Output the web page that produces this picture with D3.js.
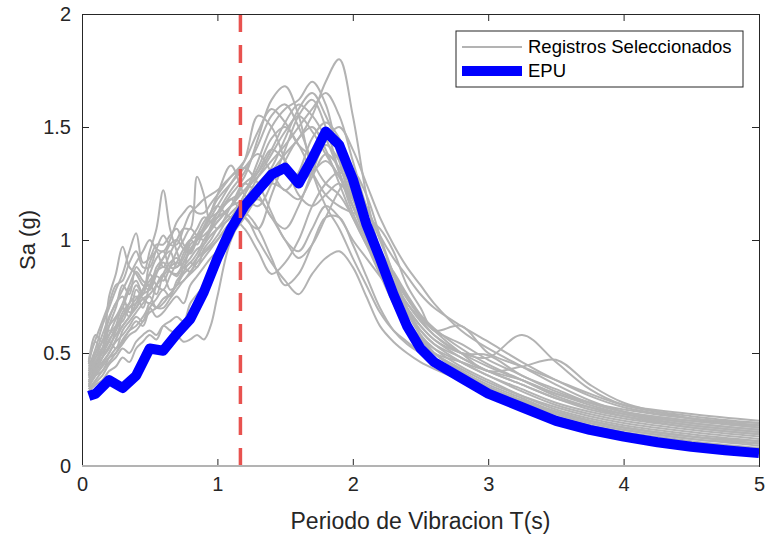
<!DOCTYPE html>
<html><head><meta charset="utf-8">
<script src="https://cdn.jsdelivr.net/npm/d3@7"></script>
<style>body{margin:0;background:#fff}text{font-family:"Liberation Sans",Arial,sans-serif}</style>
</head><body><svg id="c" width="765" height="535"></svg>
<script>
const periods = [0.05,0.1,0.15,0.2,0.25,0.3,0.35,0.4,0.45,0.5,0.55,0.6,0.65,0.7,0.75,0.8,0.85,0.9,0.95,1.0,
  1.1,1.2,1.3,1.4,1.5,1.6,1.7,1.8,1.9,2.0,2.1,2.2,2.3,2.4,2.5,2.6,2.8,3.0,3.25,3.5,3.75,4.0,4.5,5.0];
const records = [
[0.36,0.40,0.42,0.48,0.52,0.55,0.60,0.62,0.66,0.70,0.66,0.68,0.72,0.75,0.72,0.80,0.84,0.88,0.92,0.95, 1.02,1.10,1.20,1.30,1.38,1.45,1.55,1.70,1.80,1.55,1.20,0.95,0.80,0.68,0.58,0.52,0.44,0.38,0.31,0.25,0.21,0.18,0.14,0.11],
[0.40,0.45,0.50,0.55,0.62,0.70,0.66,0.78,0.74,0.72,0.80,0.85,0.78,0.80,0.88,0.92,0.96,0.98,1.02,1.05, 1.10,1.20,1.35,1.50,1.58,1.62,1.70,1.60,1.35,1.15,1.02,0.95,0.86,0.76,0.67,0.61,0.52,0.45,0.38,0.31,0.26,0.22,0.17,0.14],
[0.38,0.42,0.52,0.60,0.58,0.66,0.72,0.80,0.76,0.85,0.80,0.78,0.84,0.90,0.96,1.00,0.98,1.05,1.10,1.12, 1.20,1.28,1.45,1.62,1.68,1.55,1.30,1.15,1.05,0.92,0.80,0.68,0.60,0.55,0.50,0.46,0.40,0.35,0.29,0.24,0.20,0.17,0.13,0.10],
[0.42,0.50,0.55,0.65,0.72,0.75,0.68,0.70,0.78,0.85,0.92,0.95,0.88,0.88,0.94,1.00,1.02,1.05,1.10,1.15, 1.25,1.35,1.55,1.50,1.35,1.20,1.15,1.20,1.25,1.15,1.00,0.85,0.72,0.62,0.56,0.50,0.46,0.42,0.38,0.32,0.27,0.23,0.18,0.15],
[0.45,0.55,0.50,0.62,0.70,0.80,0.76,0.88,0.85,0.95,1.05,1.22,1.05,0.95,0.88,0.90,0.94,1.00,1.05,1.10, 1.18,1.10,1.05,1.20,1.35,1.45,1.50,1.40,1.25,1.10,0.98,0.88,0.78,0.70,0.62,0.56,0.50,0.48,0.58,0.46,0.34,0.27,0.22,0.19],
[0.40,0.48,0.52,0.58,0.65,0.70,0.78,0.82,0.76,0.90,0.95,0.88,0.94,1.00,1.05,1.05,1.28,1.20,1.08,1.10, 1.15,1.25,1.30,1.40,1.52,1.60,1.55,1.45,1.30,1.15,1.05,0.95,0.85,0.75,0.66,0.60,0.50,0.42,0.44,0.47,0.36,0.28,0.21,0.17],
[0.35,0.42,0.46,0.50,0.56,0.62,0.66,0.72,0.78,0.80,0.76,0.85,0.90,0.92,0.88,0.98,1.00,1.05,1.12,1.20, 1.33,1.20,1.15,1.25,1.40,1.55,1.62,1.50,1.30,1.12,1.00,0.90,0.80,0.70,0.62,0.56,0.48,0.42,0.36,0.30,0.26,0.23,0.19,0.16],
[0.34,0.37,0.40,0.45,0.48,0.52,0.50,0.55,0.58,0.60,0.58,0.62,0.60,0.58,0.55,0.56,0.58,0.56,0.62,0.75, 1.00,1.10,1.00,0.90,0.82,0.76,0.85,0.92,0.95,0.88,0.75,0.62,0.55,0.50,0.46,0.43,0.38,0.34,0.28,0.23,0.19,0.16,0.12,0.09],
[0.38,0.42,0.48,0.55,0.52,0.60,0.64,0.68,0.72,0.75,0.70,0.72,0.76,0.80,0.85,0.88,0.92,0.95,0.98,1.02, 1.10,1.05,0.95,0.85,0.90,1.00,1.15,1.25,1.30,1.25,1.15,1.00,0.85,0.70,0.58,0.50,0.42,0.36,0.30,0.24,0.20,0.17,0.13,0.10],
[0.37,0.44,0.48,0.52,0.60,0.68,0.72,0.75,0.70,0.80,0.86,0.90,0.86,0.85,0.90,0.95,1.00,1.02,1.05,1.08, 1.15,1.22,1.28,1.35,1.42,1.50,1.58,1.65,1.55,1.35,1.15,1.02,0.92,0.84,0.76,0.70,0.62,0.55,0.46,0.38,0.31,0.26,0.21,0.18],
[0.44,0.52,0.62,0.70,0.78,0.85,0.95,1.03,0.90,0.92,0.98,0.98,1.02,1.05,0.98,0.95,1.02,1.08,1.12,1.15, 1.10,1.20,1.30,1.40,1.35,1.25,1.30,1.35,1.28,1.15,1.02,0.90,0.80,0.72,0.65,0.58,0.50,0.49,0.40,0.34,0.28,0.24,0.20,0.18],
[0.46,0.58,0.55,0.75,0.85,0.97,0.88,0.85,0.80,0.78,0.85,0.92,0.95,0.88,0.92,1.00,1.05,1.10,1.08,1.05, 1.15,1.25,1.20,1.10,1.05,1.15,1.30,1.42,1.35,1.20,1.05,0.92,0.82,0.72,0.64,0.58,0.50,0.44,0.38,0.32,0.28,0.25,0.21,0.19],
[0.35,0.40,0.44,0.48,0.50,0.56,0.60,0.64,0.62,0.70,0.74,0.78,0.75,0.82,0.86,0.90,0.88,0.96,1.00,1.05, 1.12,1.18,1.25,1.32,1.45,1.58,1.65,1.55,1.40,1.20,1.02,0.88,0.75,0.64,0.56,0.50,0.43,0.37,0.31,0.26,0.22,0.19,0.15,0.12],
[0.39,0.46,0.52,0.58,0.62,0.64,0.70,0.72,0.76,0.78,0.84,0.82,0.88,0.95,1.00,1.05,1.02,1.00,1.06,1.12, 1.22,1.30,1.42,1.55,1.60,1.50,1.35,1.25,1.20,1.10,0.98,0.85,0.74,0.64,0.57,0.52,0.46,0.40,0.34,0.28,0.24,0.21,0.17,0.14],
[0.33,0.36,0.38,0.42,0.44,0.48,0.46,0.52,0.55,0.58,0.56,0.62,0.64,0.66,0.64,0.72,0.76,0.80,0.86,0.92, 1.02,1.12,1.18,1.10,1.00,0.92,0.98,1.10,1.22,1.30,1.20,1.02,0.85,0.70,0.58,0.50,0.42,0.35,0.29,0.23,0.19,0.16,0.12,0.10],
[0.41,0.48,0.55,0.62,0.66,0.72,0.80,0.86,0.82,0.80,0.88,0.92,0.98,1.00,0.96,0.94,1.00,1.06,1.12,1.18, 1.25,1.32,1.38,1.30,1.22,1.30,1.45,1.52,1.45,1.30,1.12,0.95,0.82,0.70,0.60,0.54,0.48,0.42,0.36,0.30,0.25,0.22,0.18,0.15],
[0.36,0.41,0.45,0.50,0.55,0.58,0.62,0.66,0.64,0.72,0.70,0.70,0.74,0.78,0.82,0.85,0.88,0.92,0.96,1.00, 1.08,1.12,1.05,0.92,0.80,0.85,0.98,1.10,1.10,0.98,0.84,0.70,0.60,0.54,0.50,0.47,0.40,0.35,0.29,0.24,0.20,0.17,0.13,0.11],
[0.40,0.46,0.50,0.56,0.60,0.66,0.70,0.74,0.78,0.82,0.86,0.88,0.86,0.84,0.90,0.96,1.00,1.04,1.08,1.12, 1.18,1.22,1.32,1.45,1.50,1.42,1.30,1.20,1.15,1.12,1.10,1.05,0.95,0.80,0.70,0.60,0.62,0.50,0.44,0.38,0.32,0.27,0.23,0.20],
[0.43,0.50,0.58,0.66,0.72,0.78,0.84,0.90,0.95,1.00,0.96,0.95,1.00,1.08,1.12,1.15,1.12,1.12,1.16,1.20, 1.28,1.35,1.48,1.58,1.52,1.42,1.38,1.45,1.50,1.40,1.25,1.10,0.98,0.88,0.80,0.72,0.60,0.52,0.44,0.36,0.29,0.24,0.19,0.16],
[0.34,0.38,0.42,0.46,0.50,0.54,0.58,0.60,0.64,0.68,0.70,0.74,0.76,0.80,0.82,0.86,0.90,0.94,0.97,1.00, 1.08,1.15,1.20,1.25,1.22,1.18,1.28,1.38,1.32,1.18,1.02,0.86,0.72,0.60,0.52,0.46,0.40,0.34,0.28,0.22,0.18,0.15,0.11,0.08],
[0.47,0.56,0.64,0.72,0.80,0.82,0.90,0.95,0.88,0.88,0.96,1.02,0.98,0.98,1.05,1.12,1.15,1.18,1.20,1.22, 1.28,1.32,1.25,1.12,1.00,0.95,1.05,1.15,1.10,1.00,0.92,0.84,0.76,0.68,0.60,0.54,0.46,0.40,0.33,0.27,0.23,0.20,0.16,0.13],
[0.37,0.43,0.48,0.53,0.58,0.62,0.66,0.70,0.74,0.76,0.80,0.84,0.88,0.90,0.88,0.86,0.92,0.98,1.04,1.08, 1.15,1.18,1.28,1.38,1.48,1.55,1.48,1.38,1.28,1.18,1.08,0.96,0.84,0.74,0.66,0.60,0.54,0.47,0.40,0.33,0.28,0.24,0.20,0.17]
];
const epuPeriods = [0.05,0.1,0.2,0.3,0.4,0.5,0.6,0.7,0.8,0.9,1.0,1.1,1.2,1.3,1.4,1.5,1.6,1.7,1.8,1.9,2.0,2.1,2.2,2.3,2.4,2.5,2.6,2.8,3.0,3.25,3.5,3.75,4.0,4.25,4.5,4.75,5.0];
const epuValues = [0.31,0.32,0.38,0.345,0.40,0.52,0.51,0.585,0.65,0.77,0.92,1.05,1.15,1.22,1.29,1.32,1.25,1.36,1.48,1.42,1.27,1.07,0.92,0.76,0.62,0.52,0.46,0.39,0.32,0.26,0.20,0.16,0.13,0.105,0.085,0.07,0.057];
const periodLimit = 1.17;
const xTicks = [0,1,2,3,4,5];
const yTicks = [0,0.5,1,1.5,2];
const yTickLabels = ["0","0.5","1","1.5","2"];
const legendLabels = ["Registros Seleccionados","EPU"];

const svg = d3.select("#c");
const L=82,R=759,T=14,B=466;
const x = d3.scaleLinear().domain([0,5]).range([L,R]);
const y = d3.scaleLinear().domain([0,2]).range([B,T]);

const g = svg.append("g");
const lineRec = d3.line().x((d,i)=>x(periods[i])).y(d=>y(d)).curve(d3.curveCatmullRom.alpha(0.5));
g.append("g").selectAll("path").data(records).join("path")
  .attr("d",lineRec).attr("fill","none").attr("stroke","#b3b3b3").attr("stroke-width",2);
const lineEpu = d3.line().x((d,i)=>x(epuPeriods[i])).y(d=>y(d));
g.append("path").attr("d",lineEpu(epuValues)).attr("fill","none").attr("stroke","#0000ff")
  .attr("stroke-width",10).attr("stroke-linejoin","round");
g.append("line").attr("x1",x(periodLimit)).attr("x2",x(periodLimit)).attr("y1",y(2)).attr("y2",y(0))
  .attr("stroke","#e8524f").attr("stroke-width",3.5).attr("stroke-dasharray","18,13");

const ax = svg.append("g");
ax.append("g").attr("transform",`translate(0,${B})`).call(d3.axisBottom(x).tickValues(xTicks).tickSize(-7).tickPadding(11).tickFormat(d3.format("d")));
ax.append("g").attr("transform",`translate(0,${T})`).call(d3.axisTop(x).tickValues(xTicks).tickSize(-7).tickFormat(""));
ax.append("g").attr("transform",`translate(${L},0)`).call(d3.axisLeft(y).tickValues(yTicks).tickSize(-7).tickPadding(11).tickFormat((d,i)=>yTickLabels[i]));
ax.append("g").attr("transform",`translate(${R},0)`).call(d3.axisRight(y).tickValues(yTicks).tickSize(-7).tickFormat(""));
ax.selectAll(".domain").attr("stroke","#262626").attr("stroke-width",1);
ax.selectAll(".tick line").attr("stroke","#262626");
ax.selectAll(".tick text").attr("font-size",20).attr("fill","#262626").attr("font-family","'Liberation Sans',Arial,sans-serif");
ax.append("line").attr("x1",x(0)).attr("x2",x(5)).attr("y1",y(0)).attr("y2",y(0)).attr("stroke","#b3b3b3").attr("stroke-width",2);

svg.append("text").attr("x",(L+R)/2).attr("y",529).attr("text-anchor","middle").attr("font-size",23).attr("fill","#262626").text("Periodo de Vibracion T(s)");
svg.append("text").attr("transform",`translate(35,${(T+B)/2}) rotate(-90)`).attr("text-anchor","middle").attr("font-size",22).attr("fill","#262626").text("Sa (g)");

const lg = svg.append("g");
lg.append("rect").attr("x",456).attr("y",31).attr("width",287).attr("height",56).attr("fill","#fff").attr("stroke","#262626").attr("stroke-width",1);
const rows=[{c:"#b3b3b3",w:2},{c:"#0000ff",w:10}];
rows.forEach((r,i)=>{
  const yy = 47+i*24;
  lg.append("line").attr("x1",462).attr("x2",522).attr("y1",yy).attr("y2",yy).attr("stroke",r.c).attr("stroke-width",r.w);
  lg.append("text").attr("x",528).attr("y",yy).attr("dy","0.35em").attr("font-size",18.5).attr("fill","#000").text(legendLabels[i]);
});
</script></body></html>
